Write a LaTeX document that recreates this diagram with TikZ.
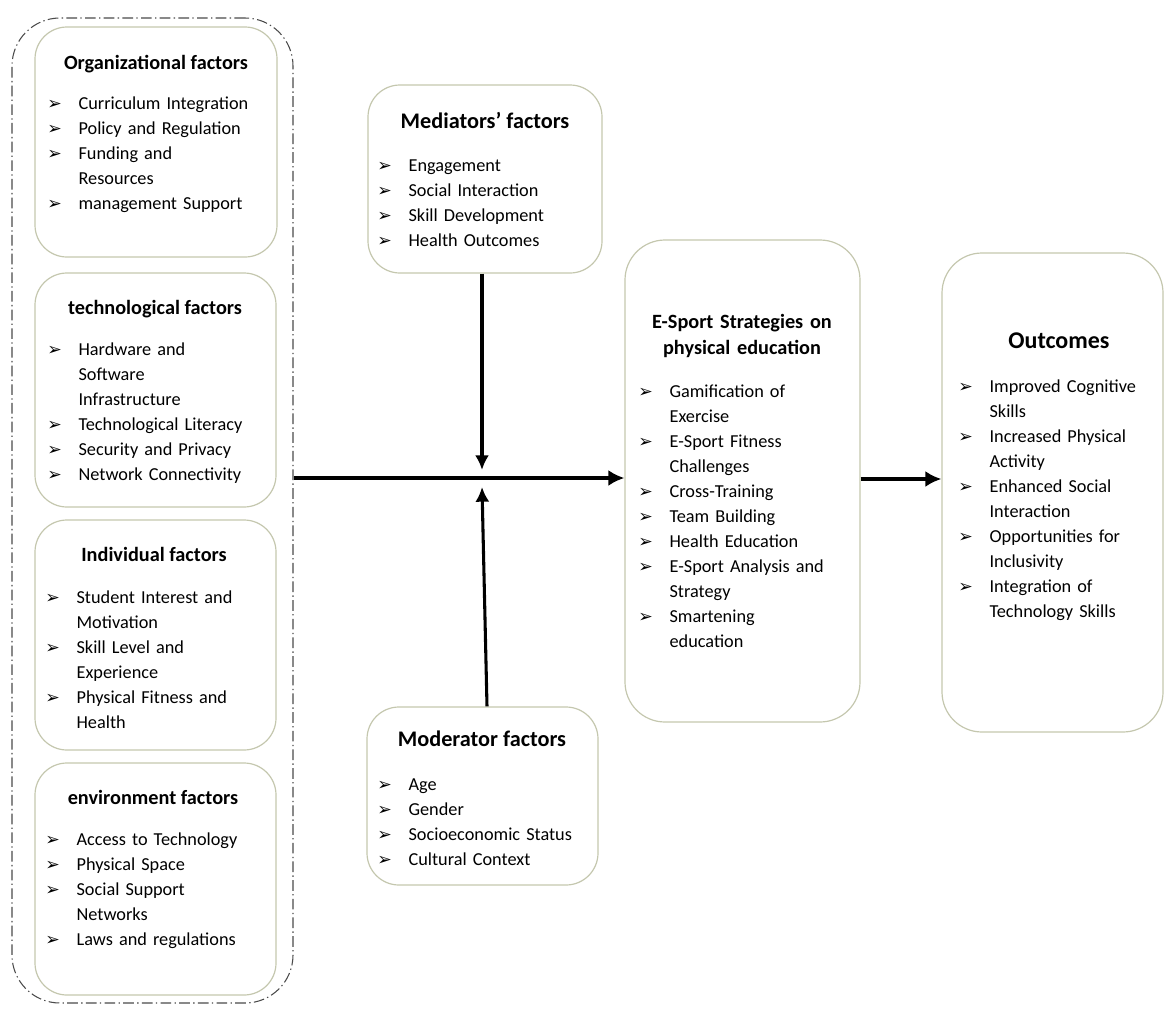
\documentclass[tikz,border=0pt]{standalone}
\usepackage{fontspec}
\setmainfont{Carlito}
\newfontfamily\symf{DejaVu Sans}
\usetikzlibrary{fit,arrows.meta}
\definecolor{boxline}{HTML}{C4C7AE}
\definecolor{dashline}{HTML}{4A4A4A}
\newcommand\bul{{\symf\fontsize{13}{13}\selectfont ➢}}
\newcommand\bl{\makebox[23.5pt][l]{\bul}}
\newcommand\cl{\hspace*{23.5pt}}
\begin{document}
\begin{tikzpicture}[x=0.75pt,y=-0.75pt,
  box/.style={draw=boxline, line width=0.9pt, rounded corners=24pt, inner sep=0pt},
  bigbox/.style={box, rounded corners=30pt},
  outerbox/.style={draw=dashline, line width=0.8pt, rounded corners=36pt, inner sep=0pt,
    dash pattern=on 8pt off 2.5pt on 1pt off 2.5pt},
  lst/.style={anchor=base west, inner sep=0pt, text width=260pt, align=left,
    font=\fontsize{13.7}{18.8}\selectfont},
  ttl/.style={anchor=base, inner sep=0pt, font=\bfseries\fontsize{15.2}{19.5}\selectfont},
  ttlb/.style={anchor=base, inner sep=0pt, font=\bfseries\fontsize{16.7}{20}\selectfont},
  ttlc/.style={anchor=base, inner sep=0pt, font=\bfseries\fontsize{18}{21}\selectfont},
  arr/.style={line width=2.8pt, -{Latex[length=12pt,width=12pt]}},
  varr/.style={line width=2.3pt, -{Latex[length=11pt,width=10.5pt]}}]
\useasboundingbox (0,0) rectangle (1167,1010);

% outer dashed container
\node[outerbox, fit={(12,18) (293,1003)}] (outer) {};

% left group boxes
\node[box, fit={(35,27) (277,257)}] (org) {};
\node[ttl] (orgT) at (156,69) {Organizational factors};
\node[lst] (orgL) at (47,109) {\bl Curriculum Integration\\
\bl Policy and Regulation\\
\bl Funding and\\
\cl Resources\\
\bl management Support};

\node[box, fit={(35,273) (276,507)}] (tech) {};
\node[ttl] (techT) at (155,314) {technological factors};
\node[lst] (techL) at (47,355) {\bl Hardware and\\
\cl Software\\
\cl Infrastructure\\
\bl Technological Literacy\\
\bl Security and Privacy\\
\bl Network Connectivity};

\node[box, fit={(35,520) (276,750)}] (ind) {};
\node[ttl] (indT) at (154,561) {Individual factors};
\node[lst] (indL) at (45,603) {\bl Student Interest and\\
\cl Motivation\\
\bl Skill Level and\\
\cl Experience\\
\bl Physical Fitness and\\
\cl Health};

\node[box, fit={(35,763) (276,995)}] (env) {};
\node[ttl] (envT) at (153,804) {environment factors};
\node[lst] (envL) at (45,845) {\bl Access to Technology\\
\bl Physical Space\\
\bl Social Support\\
\cl Networks\\
\bl Laws and regulations};

% mediators
\node[box, fit={(368,85) (602,273)}] (med) {};
\node[ttlb] (medT) at (485,128) {Mediators’ factors};
\node[lst] (medL) at (377,171) {\bl Engagement\\
\bl Social Interaction\\
\bl Skill Development\\
\bl Health Outcomes};

% moderators
\node[box, fit={(367,707) (598,885)}] (mod) {};
\node[ttlb] (modT) at (482,746) {Moderator factors};
\node[lst] (modL) at (377,790) {\bl Age\\
\bl Gender\\
\bl Socioeconomic Status\\
\bl Cultural Context};

% E-Sport strategies
\node[bigbox, fit={(625,240) (860,722)}] (esp) {};
\node[ttl, text width=200pt, align=center] (espT) at (742,328) {E-Sport Strategies on\\physical education};
\node[lst] (espL) at (638,397) {\bl Gamification of\\
\cl Exercise\\
\bl E-Sport Fitness\\
\cl Challenges\\
\bl Cross-Training\\
\bl Team Building\\
\bl Health Education\\
\bl E-Sport Analysis and\\
\cl Strategy\\
\bl Smartening\\
\cl education};

% outcomes
\node[bigbox, fit={(942,253) (1163,732)}] (out) {};
\node[ttlc] (outT) at (1059,348) {Outcomes};
\node[lst] (outL) at (958,392) {\bl Improved Cognitive\\
\cl Skills\\
\bl Increased Physical\\
\cl Activity\\
\bl Enhanced Social\\
\cl Interaction\\
\bl Opportunities for\\
\cl Inclusivity\\
\bl Integration of\\
\cl Technology Skills};

% connectors
\coordinate (jn) at (483,478);
\coordinate (jn2) at (900,479);
\coordinate (medEnd) at (482,470);
\coordinate (modEnd) at (482,487);
\coordinate (medStart) at (482,273);
\coordinate (modStart) at (487,707);
\draw[arr] (outer.east |- jn) -- (esp.west |- jn);
\draw[varr] (med.south -| medStart) -- (medEnd);
\draw[varr] (mod.north -| modStart) -- (modEnd);
\draw[arr] (esp.east |- jn2) -- (out.west |- jn2);
\end{tikzpicture}
\end{document}
